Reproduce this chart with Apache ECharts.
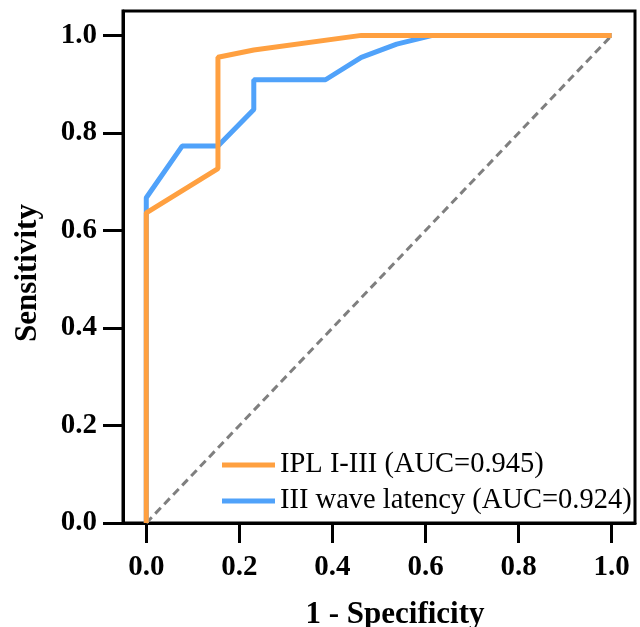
<!DOCTYPE html>
<html>
<head>
<meta charset="utf-8">
<script src="https://cdn.jsdelivr.net/npm/echarts@6/dist/echarts.min.js"></script>
<style>html,body{margin:0;padding:0;background:#fff;}#c{width:640px;height:627px;}</style>
</head>
<body>
<div id="c"></div>
<script>
// ROC curve data (1 - Specificity, Sensitivity)
const iplX = [0, 0, 0.154, 0.154, 0.231, 0.462, 1];
const iplY = [0, 0.636, 0.727, 0.955, 0.970, 1, 1];
const waveX = [0, 0, 0.077, 0.154, 0.231, 0.231, 0.385, 0.462, 0.538, 0.615, 1];
const waveY = [0, 0.667, 0.773, 0.773, 0.848, 0.909, 0.909, 0.955, 0.982, 1, 1];
const diagX = [0, 1];
const diagY = [0, 1];
const tickValues = [0, 0.2, 0.4, 0.6, 0.8, 1.0];
const seriesNames = ['IPL I-III (AUC=0.945)', 'III wave latency (AUC=0.924)'];

const zip = (xs, ys) => xs.map((x, i) => [x, ys[i]]);
const FONT = '"Liberation Serif", "Times New Roman", serif';

const chart = echarts.init(document.getElementById('c'), null, {renderer: 'canvas'});
chart.setOption({
  animation: false,
  backgroundColor: '#fff',
  grid: {left: 123, right: 5, top: 11, bottom: 104, show: true, borderColor: '#000', borderWidth: 3, containLabel: false, outerBoundsMode: 'none'},
  xAxis: {
    type: 'value', min: -0.05, max: 1.05,
    name: '1 - Specificity', nameLocation: 'middle', nameGap: 76,
    nameTextStyle: {fontFamily: FONT, fontWeight: 'bold', fontSize: 31, color: '#000', padding: [0, 0, 0, 32]},
    axisLine: {show: true, onZero: false, lineStyle: {color: '#000', width: 3}},
    axisTick: {show: true, inside: false, length: 20, lineStyle: {color: '#000', width: 3}, customValues: tickValues},
    axisLabel: {customValues: tickValues, margin: 30, fontFamily: FONT, fontWeight: 'bold', fontSize: 29, color: '#000', formatter: v => v.toFixed(1)},
    splitLine: {show: false}
  },
  yAxis: {
    type: 'value', min: 0, max: 1.05,
    name: 'Sensitivity', nameLocation: 'middle', nameGap: 80,
    nameTextStyle: {fontFamily: FONT, fontWeight: 'bold', fontSize: 31, color: '#000', padding: [0, 12, 0, 0]},
    axisLine: {show: true, onZero: false, lineStyle: {color: '#000', width: 3}},
    axisTick: {show: true, inside: false, length: 20, lineStyle: {color: '#000', width: 3}, customValues: tickValues},
    axisLabel: {customValues: tickValues, margin: 26, fontFamily: FONT, fontWeight: 'bold', fontSize: 29, color: '#000', formatter: v => v.toFixed(1)},
    splitLine: {show: false}
  },
  legend: {
    data: seriesNames,
    orient: 'vertical', left: 217, top: 445,
    icon: 'rect', itemWidth: 53, itemHeight: 5, itemGap: 6, itemTextGap: 7,
    textStyle: {fontFamily: FONT, fontSize: 28.5, color: '#000', lineHeight: 30}
  },
  series: [
    {
      name: 'diag', type: 'line', data: zip(diagX, diagY), symbol: 'none', silent: true,
      lineStyle: {color: '#7f7f7f', width: 3, type: [8, 5]}, z: 1
    },
    {
      name: seriesNames[1], type: 'line', data: zip(waveX, waveY), symbol: 'none',
      lineStyle: {color: '#50A2FA', width: 5}, itemStyle: {color: '#50A2FA'}, z: 2
    },
    {
      name: seriesNames[0], type: 'line', data: zip(iplX, iplY), symbol: 'none',
      lineStyle: {color: '#FFA040', width: 5}, itemStyle: {color: '#FFA040'}, z: 3
    }
  ]
});
</script>
</body>
</html>
